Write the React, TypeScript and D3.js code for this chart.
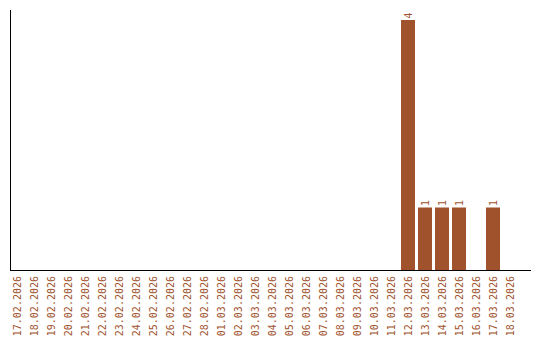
import React from "react";
import * as d3 from "d3";

const categories: string[] = [
  "17.02.2026", "18.02.2026", "19.02.2026", "20.02.2026", "21.02.2026", "22.02.2026",
  "23.02.2026", "24.02.2026", "25.02.2026", "26.02.2026", "27.02.2026", "28.02.2026",
  "01.03.2026", "02.03.2026", "03.03.2026", "04.03.2026", "05.03.2026", "06.03.2026",
  "07.03.2026", "08.03.2026", "09.03.2026", "10.03.2026", "11.03.2026", "12.03.2026",
  "13.03.2026", "14.03.2026", "15.03.2026", "16.03.2026", "17.03.2026", "18.03.2026",
];
const values: number[] = [
  0, 0, 0, 0, 0, 0, 0, 0, 0, 0, 0, 0, 0, 0, 0, 0, 0, 0, 0, 0, 0, 0, 0, 4, 1, 1, 1, 0, 1, 0,
];

const W = 540;
const H = 340;
const COLOR = "#A0522D";
const FONT = "'DejaVu Sans Mono', monospace";

export default function App() {
  const x = d3
    .scaleBand<string>()
    .domain(categories)
    .range([8.5, 518.5])
    .paddingInner(3 / 17)
    .paddingOuter(1.5 / 17);
  const y = d3.scaleLinear().domain([0, 4]).range([270, 20]);
  const bw = x.bandwidth();

  return (
    <svg
      width={W}
      height={H}
      style={{ position: "absolute", left: 0, top: 0, display: "block", background: "#fff" }}
    >
      {categories.map((c, i) =>
        values[i] > 0 ? (
          <g key={c}>
            <rect x={x(c)} y={y(values[i])} width={bw} height={y(0) - y(values[i])} fill={COLOR} />
            <text
              transform={`translate(${(x(c) as number) + bw / 2},${y(values[i]) - 1.5}) rotate(-90)`}
              dy="0.35em"
              textAnchor="start"
              fontFamily={FONT}
              fontSize={10}
              fill={COLOR}
            >
              {values[i]}
            </text>
          </g>
        ) : null
      )}
      <line x1={10.5} y1={10} x2={10.5} y2={270} stroke="#000" strokeWidth={1} />
      <line x1={10} y1={270.5} x2={531} y2={270.5} stroke="#000" strokeWidth={1} />
      {categories.map((c) => (
        <text
          key={"l" + c}
          transform={`translate(${(x(c) as number) + bw / 2},276) rotate(-90)`}
          dy="0.35em"
          textAnchor="end"
          fontFamily={FONT}
          fontSize={10}
          fill={COLOR}
        >
          {c}
        </text>
      ))}
    </svg>
  );
}
